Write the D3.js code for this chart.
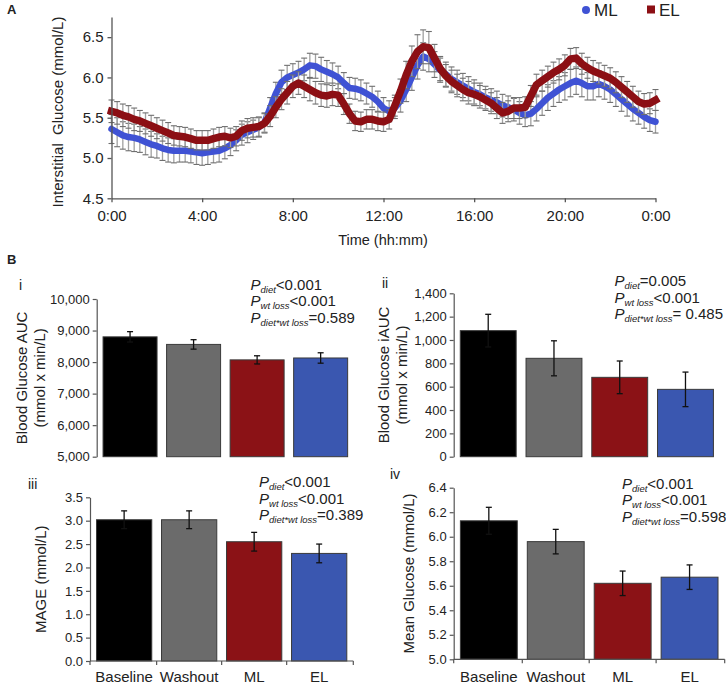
<!DOCTYPE html>
<html>
<head>
<meta charset="utf-8">
<script src="https://cdn.jsdelivr.net/npm/d3@7"></script>
<style>
  body { margin: 0; background: #fff; }
  text { font-family: "Liberation Sans", Arial, sans-serif; fill: #222; }
</style>
</head>
<body>
<svg id="chart" width="726" height="686"></svg>
<script>
// ---- panel A: 24 h interstitial glucose, 15-min steps ----
const stepMinutes = 15;
const mlMean = [5.36,5.32,5.28,5.26,5.25,5.23,5.20,5.17,5.15,
  5.12,5.10,5.09,5.09,5.09,5.08,5.07,5.06,
  5.07,5.08,5.09,5.12,5.16,5.22,5.29,5.32,
  5.35,5.38,5.44,5.62,5.80,5.94,6.00,6.03,
  6.06,6.10,6.15,6.14,6.10,6.07,6.04,6.00,
  5.93,5.87,5.86,5.84,5.80,5.76,5.70,5.62,
  5.58,5.62,5.71,5.85,6.00,6.15,6.26,6.23,
  6.16,6.09,6.04,5.98,5.94,5.90,5.86,5.82,
  5.79,5.75,5.72,5.69,5.65,5.63,5.60,5.56,
  5.53,5.55,5.61,5.68,5.75,5.80,5.85,5.89,
  5.93,5.96,5.93,5.89,5.89,5.92,5.89,5.85,
  5.79,5.73,5.67,5.61,5.56,5.51,5.47,5.45];
const mlSem = [0.18,0.18,0.17,0.17,0.17,0.16,0.16,0.16,0.15,
  0.15,0.15,0.15,0.14,0.14,0.14,0.15,0.15,
  0.15,0.14,0.14,0.13,0.13,0.13,0.13,0.13,
  0.12,0.12,0.12,0.13,0.14,0.15,0.15,0.14,
  0.14,0.14,0.15,0.15,0.15,0.14,0.14,0.14,
  0.13,0.13,0.13,0.13,0.13,0.13,0.13,0.13,
  0.13,0.13,0.14,0.15,0.16,0.17,0.17,0.16,
  0.16,0.15,0.15,0.15,0.15,0.15,0.15,0.15,
  0.14,0.14,0.14,0.14,0.14,0.14,0.14,0.14,
  0.14,0.15,0.15,0.15,0.16,0.16,0.16,0.17,
  0.17,0.17,0.17,0.17,0.17,0.16,0.16,0.16,
  0.15,0.15,0.15,0.15,0.14,0.14,0.14,0.14];
const elMean = [5.58,5.56,5.53,5.51,5.48,5.46,5.43,5.40,5.37,
  5.34,5.31,5.28,5.27,5.26,5.24,5.22,5.22,
  5.22,5.24,5.26,5.27,5.25,5.27,5.34,5.37,
  5.38,5.39,5.43,5.52,5.63,5.73,5.81,5.89,
  5.93,5.89,5.85,5.81,5.78,5.77,5.79,5.78,
  5.67,5.55,5.46,5.45,5.48,5.48,5.46,5.45,
  5.48,5.65,5.83,6.03,6.20,6.32,6.38,6.37,
  6.24,6.11,6.02,5.95,5.90,5.85,5.81,5.79,
  5.76,5.72,5.68,5.62,5.56,5.58,5.62,5.62,
  5.63,5.77,5.91,5.96,6.01,6.06,6.10,6.15,
  6.23,6.24,6.17,6.12,6.08,6.05,6.02,5.99,
  5.94,5.88,5.82,5.76,5.70,5.67,5.68,5.72];
const elSem = [0.14,0.14,0.14,0.14,0.14,0.13,0.13,0.13,0.13,
  0.13,0.13,0.12,0.12,0.12,0.12,0.12,0.12,
  0.12,0.12,0.12,0.12,0.12,0.12,0.12,0.12,
  0.12,0.12,0.12,0.13,0.13,0.13,0.14,0.14,
  0.14,0.14,0.14,0.14,0.14,0.14,0.14,0.14,
  0.13,0.12,0.12,0.12,0.12,0.12,0.12,0.12,
  0.12,0.13,0.15,0.17,0.19,0.21,0.21,0.20,
  0.17,0.15,0.14,0.14,0.14,0.14,0.14,0.14,
  0.14,0.13,0.13,0.13,0.13,0.13,0.13,0.13,
  0.13,0.13,0.13,0.13,0.13,0.13,0.13,0.13,
  0.13,0.13,0.13,0.13,0.13,0.13,0.13,0.13,
  0.13,0.13,0.13,0.13,0.13,0.13,0.13,0.13];
const hourTicks = [0, 4, 8, 12, 16, 20, 24];
const glucoseTicks = [4.5, 5.0, 5.5, 6.0, 6.5];

// ---- panel B: bar charts ----
const groups = ["Baseline", "Washout", "ML", "EL"];
const aucMean = [8800, 8560, 8070, 8130];
const aucSem = [165, 150, 130, 165];
const iaucMean = [1080, 843, 680, 577];
const iaucSem = [140, 150, 140, 148];
const mageMean = [3.02, 3.02, 2.55, 2.30];
const mageSem = [0.19, 0.19, 0.20, 0.20];
const meanGluMean = [6.13, 5.96, 5.62, 5.67];
const meanGluSem = [0.11, 0.10, 0.10, 0.10];

const blue = "#3f52d4", red = "#8c0f14";
const barColors = ["#000000", "#6b6b6b", "#8b1216", "#3a57b0"];

const svg = d3.select("#chart");

// ============ Panel A ============
const x = d3.scaleLinear().domain([0, 24]).range([111.5, 655.5]);
const y = d3.scaleLinear().domain([4.5, 6.75]).range([198.3, 17]);
const hrs = mlMean.map((d, i) => i * stepMinutes / 60);

svg.append("text").attr("x", 7).attr("y", 14)
  .attr("font-size", 13).attr("font-weight", "bold").text("A");

const gA = svg.append("g");

function errBars(mean, sem) {
  const g = gA.append("g");
  mean.forEach((m, i) => {
    const cx = x(hrs[i]);
    g.append("line").attr("x1", cx).attr("x2", cx)
      .attr("y1", y(m - sem[i])).attr("y2", y(m + sem[i]))
      .attr("stroke", "#a0a0a0").attr("stroke-width", 1.3);
    [m - sem[i], m + sem[i]].forEach(v => {
      g.append("line").attr("x1", cx - 3).attr("x2", cx + 3)
        .attr("y1", y(v)).attr("y2", y(v))
        .attr("stroke", "#6e6e6e").attr("stroke-width", 1.1);
    });
  });
}

const line = d3.line().x((d, i) => x(hrs[i])).y(d => y(d)).curve(d3.curveLinear);

errBars(mlMean, mlSem);
gA.append("path").datum(mlMean).attr("d", line)
  .attr("fill", "none").attr("stroke", blue).attr("stroke-width", 6.5)
  .attr("stroke-linejoin", "round").attr("stroke-linecap", "round");
errBars(elMean, elSem);
gA.append("path").datum(elMean).attr("d", line)
  .attr("fill", "none").attr("stroke", red).attr("stroke-width", 7.5)
  .attr("stroke-linejoin", "round").attr("stroke-linecap", "square");

const axA = svg.append("g").attr("transform", "translate(0,198.3)")
  .call(d3.axisBottom(x).tickValues(hourTicks).tickSize(4).tickSizeOuter(0)
    .tickFormat(h => (h % 24) + ":00"));
const ayA = svg.append("g").attr("transform", "translate(111.5,0)")
  .call(d3.axisLeft(y).tickValues(glucoseTicks).tickSize(4).tickSizeOuter(0)
    .tickFormat(d3.format(".1f")));
[axA, ayA].forEach(a => {
  a.select(".domain").attr("stroke", "#555").attr("stroke-width", 1.3);
  a.selectAll(".tick line").attr("stroke", "#555").attr("stroke-width", 1.3);
  a.selectAll(".tick text").attr("font-size", 15).attr("fill", "#222")
    .attr("font-family", "Liberation Sans, Arial, sans-serif");
});
axA.selectAll(".tick text").attr("dy", "1.05em");
ayA.selectAll(".tick text").attr("dx", "-1px");

svg.append("text").attr("x", 383).attr("y", 245).attr("text-anchor", "middle")
  .attr("font-size", 14.5).text("Time (hh:mm)");
svg.append("text").attr("transform", "translate(63,112) rotate(-90)")
  .attr("text-anchor", "middle").attr("font-size", 15)
  .text("Interstitial\u00a0 Glucose (mmol/L)");

// legend
svg.append("circle").attr("cx", 586).attr("cy", 10).attr("r", 4).attr("fill", blue);
svg.append("text").attr("x", 594).attr("y", 16).attr("font-size", 17).text("ML");
svg.append("rect").attr("x", 647).attr("y", 5.5).attr("width", 8).attr("height", 8).attr("fill", red);
svg.append("text").attr("x", 659).attr("y", 16).attr("font-size", 17).text("EL");

// ============ Panel B ============
svg.append("text").attr("x", 7).attr("y", 264)
  .attr("font-size", 13).attr("font-weight", "bold").text("B");

function barPanel(cfg) {
  const yb = d3.scaleLinear().domain(cfg.domain).range([cfg.bottom, cfg.top]);
  const xb = d3.scaleBand().domain(groups).range([cfg.left, cfg.right])
    .paddingInner(0.15).paddingOuter(0.1);
  const g = svg.append("g");

  g.selectAll("rect").data(cfg.mean).join("rect")
    .attr("x", (d, i) => xb(groups[i]))
    .attr("width", xb.bandwidth())
    .attr("y", d => yb(d))
    .attr("height", d => yb(cfg.domain[0]) - yb(d))
    .attr("fill", (d, i) => barColors[i])
    .attr("stroke", "#3a3a3a").attr("stroke-width", 1);

  cfg.mean.forEach((m, i) => {
    const cx = xb(groups[i]) + xb.bandwidth() / 2;
    const y1 = yb(m - cfg.sem[i]), y2 = yb(m + cfg.sem[i]);
    g.append("line").attr("x1", cx).attr("x2", cx).attr("y1", y1).attr("y2", y2)
      .attr("stroke", "#111").attr("stroke-width", 1.3);
    [y1, y2].forEach(yy => g.append("line").attr("x1", cx - 3).attr("x2", cx + 3)
      .attr("y1", yy).attr("y2", yy).attr("stroke", "#111").attr("stroke-width", 1.3));
  });

  const ay = g.append("g").attr("transform", `translate(${cfg.left},0)`)
    .call(d3.axisLeft(yb).tickValues(cfg.ticks).tickSize(4).tickSizeOuter(0)
      .tickFormat(cfg.fmt));
  ay.select(".domain").attr("stroke", "#555").attr("stroke-width", 1.2);
  ay.selectAll(".tick line").attr("stroke", "#555").attr("stroke-width", 1.2);
  ay.selectAll(".tick text").attr("font-size", 13).attr("fill", "#222")
    .attr("font-family", "Liberation Sans, Arial, sans-serif");

  if (cfg.xAxis) {
    const step = xb.step();
    const edges = [cfg.left];
    groups.forEach((gname, i) => { if (i > 0) edges.push(xb(gname) - step * 0.075); });
    edges.push(cfg.right);
    g.append("line").attr("x1", cfg.left).attr("x2", cfg.right)
      .attr("y1", cfg.bottom).attr("y2", cfg.bottom)
      .attr("stroke", "#555").attr("stroke-width", 1.2);
    g.selectAll(".xt").data(edges).join("line")
      .attr("x1", d => d).attr("x2", d => d)
      .attr("y1", cfg.bottom).attr("y2", cfg.bottom + 4)
      .attr("stroke", "#555").attr("stroke-width", 1.2);
    g.selectAll(".xl").data(groups).join("text")
      .attr("x", d => xb(d) + xb.bandwidth() / 2).attr("y", 682)
      .attr("text-anchor", "middle").attr("font-size", 15).text(d => d);
  }

  // roman numeral
  svg.append("text").attr("x", cfg.numX).attr("y", cfg.numY)
    .attr("font-size", 14).text(cfg.num);

  // y title
  const t = svg.append("text")
    .attr("transform", `translate(${cfg.titleX},${(cfg.top + cfg.bottom) / 2}) rotate(-90)`)
    .attr("text-anchor", "middle").attr("font-size", 15);
  cfg.title.forEach((s, i) => t.append("tspan").attr("x", 0).attr("dy", i ? 17.5 : 0).text(s));

  // p values
  cfg.pvals.forEach((p, i) => {
    const pt = svg.append("text").attr("x", cfg.pX).attr("y", cfg.pY + i * 16.7).attr("font-size", 15);
    pt.append("tspan").attr("font-style", "italic").text("P");
    pt.append("tspan").attr("font-style", "italic").attr("font-size", 9.5).attr("dy", 3).text(p[0]);
    pt.append("tspan").attr("dy", -3).text(p[1]);
  });
}

const pI = [["diet", "<0.001"], ["wt loss", "<0.001"], ["diet*wt loss", "=0.589"]];
const pII = [["diet", "=0.005"], ["wt loss", "<0.001"], ["diet*wt loss", "= 0.485"]];
const pIII = [["diet", "<0.001"], ["wt loss", "<0.001"], ["diet*wt loss", "=0.389"]];
const pIV = [["diet", "<0.001"], ["wt loss", "<0.001"], ["diet*wt loss", "=0.598"]];

barPanel({ domain: [5000, 10000], ticks: d3.range(5000, 10001, 1000), fmt: d3.format(","),
  top: 299, bottom: 456.7, left: 96.7, right: 354, mean: aucMean, sem: aucSem, xAxis: false,
  num: "i", numX: 19, numY: 290, title: ["Blood Glucose AUC", "(mmol x min/L)"], titleX: 27,
  pvals: pI, pX: 250.5, pY: 289.5 });

barPanel({ domain: [0, 1400], ticks: d3.range(0, 1401, 200), fmt: d3.format(","),
  top: 293.3, bottom: 456.7, left: 453.7, right: 720, mean: iaucMean, sem: iaucSem, xAxis: false,
  num: "ii", numX: 382, numY: 288, title: ["Blood Glucose  iAUC", "(mmol x min/L)"], titleX: 389,
  pvals: pII, pX: 614.5, pY: 286 });

barPanel({ domain: [0, 3.5], ticks: d3.range(0, 3.51, 0.5), fmt: d3.format(".1f"),
  top: 497.3, bottom: 661, left: 90, right: 353.3, mean: mageMean, sem: mageSem, xAxis: true,
  num: "iii", numX: 28, numY: 489, title: ["MAGE (mmol/L)"], titleX: 46,
  pvals: pIII, pX: 259, pY: 487 });

barPanel({ domain: [5.0, 6.4], ticks: d3.range(5.0, 6.41, 0.2), fmt: d3.format(".1f"),
  top: 487.7, bottom: 659.3, left: 453.7, right: 724.7, mean: meanGluMean, sem: meanGluSem, xAxis: true,
  num: "iv", numX: 390, numY: 479, title: ["Mean Glucose  (mmol/L)"], titleX: 414,
  pvals: pIV, pX: 622, pY: 488.5 });
</script>
</body>
</html>
